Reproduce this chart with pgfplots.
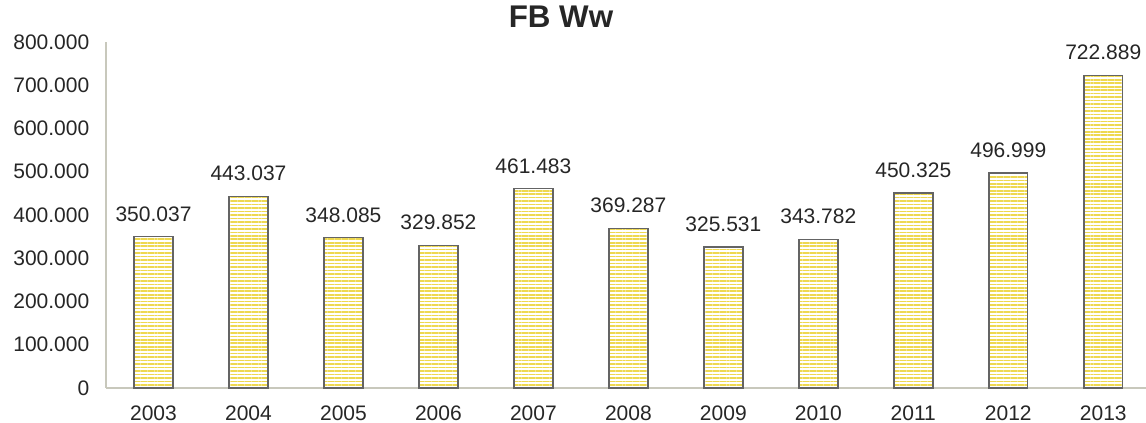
\documentclass[border=0pt]{standalone}
\usepackage{pgfplots}
\pgfplotsset{compat=1.18}
\usetikzlibrary{patterns.meta}
\usepackage{fontspec}
\setmainfont{Liberation Sans}
\definecolor{txt}{RGB}{38,38,38}
\definecolor{axl}{RGB}{200,200,188}
\definecolor{stripe}{RGB}{238,216,80}
\definecolor{edge}{RGB}{100,100,100}
\begin{document}
\begin{tikzpicture}
\useasboundingbox (-79.5pt,-26.25pt) rectangle (780pt,291pt);
\begin{axis}[
  scale only axis,
  width=780pt, height=259.5pt,
  xmin=-0.5, xmax=10.45,
  ymin=0, ymax=800000,
  axis x line*=bottom, axis y line*=left,
  axis line style={-, axl, line width=1.1pt},
  xtick=data,
  xticklabels={2003,2004,2005,2006,2007,2008,2009,2010,2011,2012,2013},
  ytick={0,100000,200000,300000,400000,500000,600000,700000,800000},
  yticklabels={0,100.000,200.000,300.000,400.000,500.000,600.000,700.000,800.000},
  scaled y ticks=false,
  major tick length=0pt,
  tick label style={font=\fontsize{15.75}{18}\selectfont, text=txt},
  yticklabel style={xshift=-9pt},
  xticklabel style={yshift=-10pt},
  title={\textbf{FB Ww}},
  title style={at={(0.4375,1)}, anchor=base, yshift=4.5pt, font=\fontsize{23.5}{28}\selectfont, text=txt},
  ybar, bar width=0.41,
  point meta=explicit symbolic,
  nodes near coords,
  nodes near coords style={font=\fontsize{15.75}{18}\selectfont, text=txt, anchor=south, yshift=7.5pt},
  clip=false,
]
\addplot[draw=edge, line width=1.1pt,
  pattern={Lines[angle=0, distance=2.6pt, line width=1.2pt]}, pattern color=stripe]
table[meta=lab] {
x y lab
0 350037 350.037
1 443037 443.037
2 348085 348.085
3 329852 329.852
4 461483 461.483
5 369287 369.287
6 325531 325.531
7 343782 343.782
8 450325 450.325
9 496999 496.999
10 722889 722.889
};
\end{axis}
\end{tikzpicture}
\end{document}
